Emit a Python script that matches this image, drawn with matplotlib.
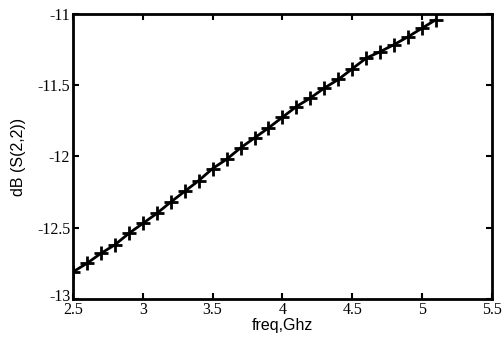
import matplotlib
matplotlib.use("Agg")
import matplotlib.pyplot as plt
import matplotlib.transforms as mtransforms

freq = [2.5, 2.6, 2.7, 2.8, 2.9, 3.0, 3.1, 3.2, 3.3, 3.4, 3.5, 3.6, 3.7, 3.8,
        3.9, 4.0, 4.1, 4.2, 4.3, 4.4, 4.5, 4.6, 4.7, 4.8, 4.9, 5.0, 5.1]
s22 = [-12.81, -12.75, -12.68, -12.62, -12.54, -12.47, -12.40, -12.32, -12.245,
       -12.17, -12.085, -12.02, -11.94, -11.87, -11.80, -11.725, -11.65, -11.59,
       -11.52, -11.46, -11.385, -11.31, -11.265, -11.215, -11.16, -11.10, -11.04]
xticks = [2.5, 3, 3.5, 4, 4.5, 5, 5.5]
xticklabels = ["2.5", "3", "3.5", "4", "4.5", "5", "5.5"]
yticks = [-13, -12.5, -12, -11.5, -11]
yticklabels = ["-13", "-12.5", "-12", "-11.5", "-11"]

fig = plt.figure(figsize=(5.03, 3.39), dpi=100)
ax = fig.add_axes([0.145, 0.118, 0.833, 0.841])
ax.plot(freq, s22, color="black", linewidth=2, marker="+", markersize=10,
        markeredgewidth=2)
ax.set_xlim(2.5, 5.5)
ax.set_ylim(-13, -11)
ax.set_xticks(xticks)
ax.set_xticklabels(xticklabels, family="Liberation Serif", fontsize=11.5)
ax.set_yticks(yticks)
ax.set_yticklabels(yticklabels, family="Liberation Serif", fontsize=11.5)
ax.tick_params(direction="in", length=4, width=1.5, top=True, right=True,
               pad=2, colors="black")
for sp in ax.spines.values():
    sp.set_linewidth(2)
ax.set_xlabel("freq,Ghz", family="Liberation Sans", fontsize=11.5, labelpad=0.5)
ax.set_ylabel("dB (S(2,2))", family="Liberation Sans", fontsize=11.5, labelpad=8)

# nudge the bottom y label up slightly, as in the reference
lab = ax.get_yticklabels()[0]
lab.set_transform(lab.get_transform() +
                  mtransforms.ScaledTranslation(0, 3 / 72, fig.dpi_scale_trans))
fig.savefig("out.png", dpi=100)
